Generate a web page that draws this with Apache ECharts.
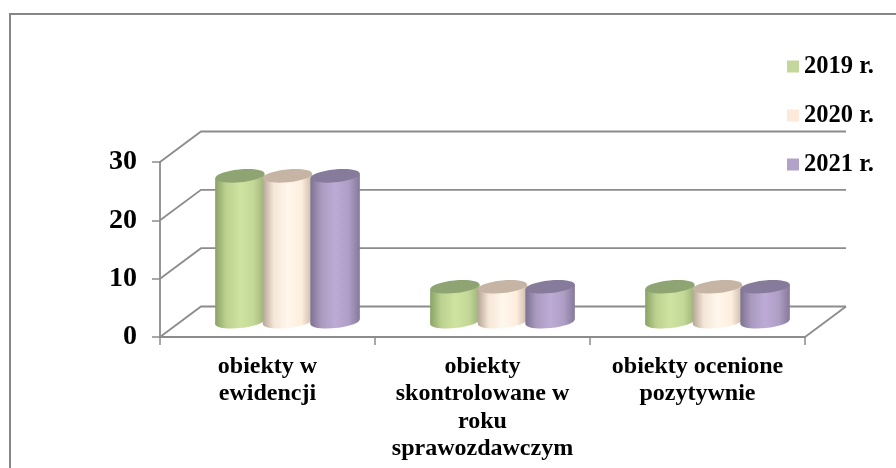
<!DOCTYPE html>
<html><head><meta charset="utf-8">
<style>html,body{margin:0;padding:0;background:#fff}#c{width:896px;height:468px}</style>
<script src="https://cdn.jsdelivr.net/npm/echarts@6/dist/echarts.min.js"></script>
</head><body><div id="c"></div>
<script>
const categories = ['obiekty w\newidencji', 'obiekty\nskontrolowane w\nroku\nsprawozdawczym', 'obiekty ocenione\npozytywnie'];
const seriesNames = ['2019 r.', '2020 r.', '2021 r.'];
const values2019 = [25, 6, 6];
const values2020 = [25, 6, 6];
const values2021 = [25, 6, 6];
const yTicks = [0, 10, 20, 30];

const FONT = '"Liberation Serif","Times New Roman",serif';
const GRID = '#8c8c8c';
const palettes = [
  {sw:'#c3d69b', top:'#8fa473', stops:['#8aa266','#bcd18f','#cfe3a1','#c3d897','#9db377']},
  {sw:'#fde9d9', top:'#c6b5a5', stops:['#b5a698','#f5e6d8','#fff7ec','#fdeede','#c9baab']},
  {sw:'#b3a2c7', top:'#877b9b', stops:['#7d7292','#aa9abf','#bdabd6','#ae9dc4','#85799b']}
];
const DX = 41, DY = -30.5;

function grad(s){
  return {type:'linear',x:0,y:0,x2:1,y2:0,colorStops:[
    {offset:0,color:s[0]},{offset:.22,color:s[1]},{offset:.5,color:s[2]},{offset:.78,color:s[3]},{offset:1,color:s[4]}]};
}
function cylinder(pal, i){
  return function(params, api){
    const band = api.size([1,0])[0];
    const w = band*0.23;
    const base = api.coord([api.value(0),0]);
    const top = api.coord([api.value(0),api.value(1)]);
    const cx = base[0] + DX/2 + (i-1)*band*0.2215 - 0.5;
    const by = base[1] + DY/2, ty = top[1] + DY/2;
    const rx = w/2, ry = 6.4, tilt = 2.4, rot = Math.atan2(tilt, rx);
    const fill = grad(pal.stops);
    return {type:'group', children:[
      {type:'ellipse', shape:{cx:cx,cy:by,rx:rx,ry:ry}, rotation:rot, originX:cx, originY:by, style:{fill:fill}},
      {type:'polygon', shape:{points:[[cx-rx,ty+tilt],[cx+rx,ty-tilt],[cx+rx,by-tilt],[cx-rx,by+tilt]]}, style:{fill:fill}},
      {type:'ellipse', shape:{cx:cx,cy:ty,rx:rx,ry:ry}, rotation:rot, originX:cx, originY:ty, style:{fill:pal.top}}
    ]};
  };
}
function walls(params, api){
  const cs = params.coordSys;
  const v = api.value(0);
  const y = api.coord([0,v])[1];
  const left = cs.x, right = cs.x+cs.width;
  const ch = [{type:'polyline', shape:{points:[[left,y],[left+DX,y+DY],[right+DX,y+DY]]},
    style:{stroke:GRID,lineWidth:1.8,fill:null}}];
  if(v===0) ch.push({type:'line', shape:{x1:right,y1:y,x2:right+DX,y2:y+DY}, style:{stroke:GRID,lineWidth:1.8}});
  return {type:'group',children:ch};
}
const all = [values2019, values2020, values2021];
const chart = echarts.init(document.getElementById('c'), null, {renderer:'canvas'});
chart.setOption({
  animation:false,
  backgroundColor:'#fff',
  graphic:[{type:'polyline',z:0,shape:{points:[[10,468],[10,14],[896,14]]},style:{stroke:'#868686',lineWidth:2,fill:null}}],
  legend:{orient:'vertical',left:787,top:54,padding:0,itemWidth:12,itemHeight:12,itemGap:24,icon:'rect',
    data:seriesNames,selectedMode:false,
    textStyle:{fontFamily:FONT,fontWeight:'bold',fontSize:24.5,color:'#000',lineHeight:24}},
  grid:{left:160,top:162,width:645,height:175,containLabel:false},
  xAxis:{type:'category',data:categories,
    axisLine:{lineStyle:{color:GRID,width:1.8}},
    axisTick:{show:true,length:8,lineStyle:{color:GRID,width:1.5}},
    axisLabel:{interval:0,margin:16,fontFamily:FONT,fontWeight:'bold',fontSize:24,color:'#000',lineHeight:27.5}},
  yAxis:{type:'value',min:0,max:30,interval:10,
    axisLine:{show:true,lineStyle:{color:GRID,width:1.8}},
    axisTick:{show:true,length:8,lineStyle:{color:GRID,width:1.5}},
    splitLine:{show:false},
    axisLabel:{margin:23,fontFamily:FONT,fontWeight:'bold',fontSize:28,color:'#000'}},
  series:[
    {type:'custom',name:'walls',z:1,silent:true,renderItem:walls,data:yTicks.map(v=>[v]),encode:{y:0},clip:false},
    ...seriesNames.map((n,i)=>({
      type:'custom',name:n,z:3+i,clip:false,
      itemStyle:{color:palettes[i].sw},
      renderItem:cylinder(palettes[i],i),
      encode:{x:0,y:1},
      data:all[i].map((v,k)=>[k,v])
    }))
  ]
});
</script></body></html>
